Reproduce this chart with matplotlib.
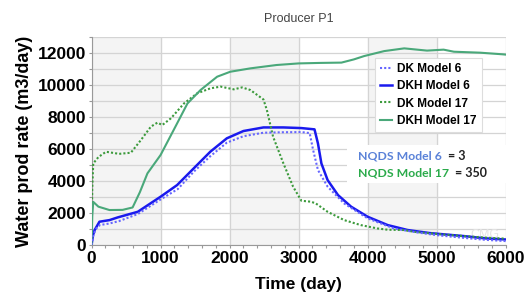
import matplotlib.pyplot as plt
from matplotlib.ticker import MultipleLocator
import numpy as np

plt.rcParams["font.family"] = ["Liberation Sans", "DejaVu Sans"]

# DK Model 6 (dotted blue)
t_dk6 = [0, 20, 60, 120, 260, 400, 670, 1000, 1250, 1480, 1720, 1960, 2200, 2490, 2780, 3040, 3160,
         3210, 3280, 3420, 3660, 4000, 4380, 4700, 5000, 5400, 5700, 6000]
v_dk6 = [0, 500, 1000, 1250, 1350, 1500, 1940, 2850, 3500, 4580, 5550, 6400, 6800, 7020, 7050, 7060, 7000,
         5940, 4690, 3650, 2600, 1670, 1040, 800, 620, 450, 330, 250]
# DKH Model 6 (solid blue)
t_dkh6 = [0, 20, 45, 115, 260, 380, 670, 1000, 1240, 1480, 1720, 1960, 2200, 2490, 2780, 3040, 3230,
          3280, 3330, 3420, 3570, 3760, 4000, 4290, 4580, 4900, 5400, 5700, 6000]
v_dkh6 = [0, 600, 940, 1460, 1560, 1730, 2080, 3020, 3750, 4790, 5830, 6670, 7125, 7350, 7350, 7310, 7230,
          6350, 5100, 4060, 3125, 2400, 1770, 1250, 940, 750, 560, 420, 350]
# DK Model 17 (dotted green)
t_dk17 = [0, 10, 25, 100, 210, 400, 570, 715, 860, 955, 1025, 1150, 1340, 1530, 1720, 1870, 2060, 2180,
          2300, 2490, 2540, 2630, 2780, 2920, 3040, 3180, 3250, 3420, 3660, 3900, 4140, 4290, 4530,
          4670, 5000, 5400, 5700, 6000]
v_dk17 = [0, 3500, 5100, 5500, 5830, 5700, 5770, 6560, 7400, 7650, 7500, 7920, 8850, 9480, 9790, 9900, 9730,
          9850, 9690, 9100, 8440, 6770, 5100, 3650, 2770, 2710, 2600, 2080, 1560, 1250, 1040, 960, 940,
          830, 700, 560, 470, 400]
# DKH Model 17 (solid green)
t_dkh17 = [0, 10, 25, 100, 260, 450, 595, 700, 810, 1000, 1190, 1390, 1580, 1820, 2010, 2300, 2680, 3000,
           3300, 3620, 3800, 3950, 4240, 4530, 4860, 5100, 5250, 5630, 5950, 6000]
v_dkh17 = [0, 1800, 2700, 2400, 2190, 2200, 2350, 3300, 4480, 5625, 7190, 8850, 9690, 10520, 10830, 11040,
           11250, 11350, 11380, 11400, 11600, 11810, 12120, 12290, 12150, 12210, 12080, 12020, 11920, 11900]

labels = ["DK Model 6", "DKH Model 6", "DK Model 17", "DKH Model 17"]
nqds_names = ["NQDS Model 6", "NQDS Model 17"]
nqds_values = ["= 3", "= 350"]
nqds_colors = ["#5a82d8", "#2aaa4a"]

fig = plt.figure(figsize=(5.29, 2.96), dpi=100)
ax = fig.add_axes([0.173, 0.172, 0.783, 0.703])

# alternating background bands
for x0 in range(0, 6000, 2000):
    ax.axvspan(x0, x0 + 1000, color="#f4f4f4", zorder=0)

ax.plot(t_dk6, v_dk6, color="#6666ff", lw=1.5, ls=(0, (1, 1)), label=labels[0], zorder=4)
ax.plot(t_dkh6, v_dkh6, color="#1a1aee", lw=1.8, label=labels[1], zorder=3)
ax.plot(t_dk17, v_dk17, color="#3c9a3c", lw=1.5, ls=(0, (1, 1)), label=labels[2], zorder=3)
ax.plot(t_dkh17, v_dkh17, color="#4aa87a", lw=1.5, label=labels[3], zorder=3)

ax.set_xlim(0, 6000)
ax.set_ylim(0, 13000)
ax.xaxis.set_major_locator(MultipleLocator(1000))
ax.xaxis.set_minor_locator(MultipleLocator(200))
ax.yaxis.set_major_locator(MultipleLocator(2000))
ax.yaxis.set_minor_locator(MultipleLocator(1000))
ax.grid(True, which="major", color="#d4d4d4", lw=0.9)
ax.grid(True, which="minor", axis="y", color="#d4d4d4", lw=0.9)
ax.set_axisbelow(True)
for s in ["top", "right"]:
    ax.spines[s].set_visible(False)
for s in ["left", "bottom"]:
    ax.spines[s].set_color("#999999")
ax.tick_params(which="both", color="#999999", length=2, width=0.8)
ax.tick_params(which="major", labelsize=12.5, pad=2)
for lab in ax.get_xticklabels() + ax.get_yticklabels():
    lab.set_fontweight("bold")

ax.set_xlabel("Time (day)", fontsize=12.5, fontweight="bold", labelpad=8)
ax.set_ylabel("Water prod rate (m3/day)", fontsize=13, fontweight="bold", labelpad=3)
ax.set_title("Producer P1", fontsize=9, color="#444444", pad=11)

leg = ax.legend(loc="upper left", bbox_to_anchor=(0.67, 0.93), handlelength=1.0,
                handletextpad=0.4, labelspacing=0.45, borderpad=0.45, framealpha=1,
                edgecolor="#dddddd", fancybox=False, prop={"weight": "bold", "size": 8.6})
leg.get_frame().set_linewidth(0.8)

# white box behind NQDS text
ax.add_patch(plt.Rectangle((0.617, 0.298), 0.383, 0.185, transform=ax.transAxes,
                           facecolor="white", edgecolor="none", zorder=1))
for name, val, col, yy in zip(nqds_names, nqds_values, nqds_colors, [0.43, 0.345]):
    t1 = ax.text(0.644, yy, name, transform=ax.transAxes, color=col,
                 fontsize=8.8, fontfamily="Lato", fontweight="bold", va="center", zorder=5)
    ax.annotate(val, xy=(1, 0.5), xycoords=t1, xytext=(4, 0), textcoords="offset points",
                color="#222222", fontsize=9, fontfamily="Lato", fontweight="bold",
                va="center", zorder=5)
ax.text(0.985, 0.02, "CMG", transform=ax.transAxes, color="#e4e4e4", fontsize=9,
        ha="right", va="bottom", zorder=2)

plt.savefig("out.png", dpi=100)
